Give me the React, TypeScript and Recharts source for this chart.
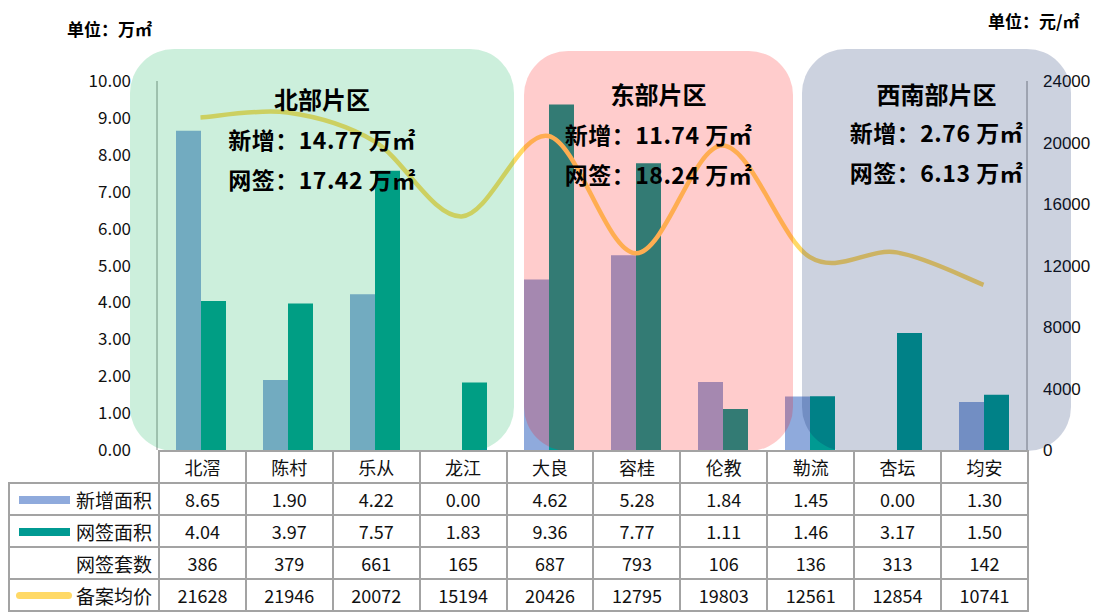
import { ComposedChart, Bar, Line, XAxis, YAxis } from 'recharts';

const categories = ['北滘', '陈村', '乐从', '龙江', '大良', '容桂', '伦教', '勒流', '杏坛', '均安'];
const newArea = [8.65, 1.9, 4.22, 0.0, 4.62, 5.28, 1.84, 1.45, 0.0, 1.3];
const signedArea = [4.04, 3.97, 7.57, 1.83, 9.36, 7.77, 1.11, 1.46, 3.17, 1.5];
const signedUnits = [386, 379, 661, 165, 687, 793, 106, 136, 313, 142];
const avgPrice = [21628, 21946, 20072, 15194, 20426, 12795, 19803, 12561, 12854, 10741];

const leftTicks = [0, 1, 2, 3, 4, 5, 6, 7, 8, 9, 10];
const rightTicks = [0, 4000, 8000, 12000, 16000, 20000, 24000];

const regionNames = ['北部片区', '东部片区', '西南部片区'];
const regionNew = ['14.77', '11.74', '2.76'];
const regionSigned = ['17.42', '18.24', '6.13'];

const NEW_COLOR = '#8FAADC';
const SIGNED_COLOR = '#009A92';
const PRICE_COLOR = '#FFD966';
const CJK = '"Noto Sans CJK SC", "Noto Sans", sans-serif';

// overlay boxes behind the region labels
const regionBoxes = [
  { left: 130, top: 49, width: 384, height: 402, bg: 'rgba(0,176,80,0.2)', titleTop: 84, lineTop: 124 },
  { left: 524, top: 51, width: 269, height: 400, bg: 'rgba(255,0,0,0.2)', titleTop: 79, lineTop: 119 },
  { left: 802, top: 49, width: 269, height: 402, bg: 'rgba(0,32,96,0.2)', titleTop: 79, lineTop: 117 },
];

const chartData = categories.map((name, i) => ({
  name,
  newArea: newArea[i],
  signedArea: signedArea[i],
  price: avgPrice[i],
}));

// Excel-style smoothing (Catmull-Rom through every point)
const smoothCurve: any = (context: any) => {
  let pts: number[][] = [];
  return {
    areaStart() {},
    areaEnd() {},
    lineStart() {
      pts = [];
    },
    point(x: number, y: number) {
      pts.push([+x, +y]);
    },
    lineEnd() {
      const n = pts.length;
      if (!n) return;
      context.moveTo(pts[0][0], pts[0][1]);
      for (let i = 0; i < n - 1; i++) {
        const p0 = pts[Math.max(i - 1, 0)];
        const p1 = pts[i];
        const p2 = pts[i + 1];
        const p3 = pts[Math.min(i + 2, n - 1)];
        context.bezierCurveTo(
          p1[0] + (p2[0] - p0[0]) / 6,
          p1[1] + (p2[1] - p0[1]) / 6,
          p2[0] - (p3[0] - p1[0]) / 6,
          p2[1] - (p3[1] - p1[1]) / 6,
          p2[0],
          p2[1]
        );
      }
    },
  };
};

const cell: React.CSSProperties = {
  border: '2px solid #a3a3a3',
  height: 30,
  padding: 0,
  textAlign: 'center',
  fontSize: 18,
  fontFamily: CJK,
  color: '#111',
};

function Swatch({ color, round }: { color: string; round?: boolean }) {
  return (
    <span
      style={{
        position: 'absolute',
        left: round ? 6 : 9,
        top: 12,
        width: round ? 56 : 51,
        height: round ? 7 : 8,
        borderRadius: round ? 4 : 0,
        background: color,
      }}
    />
  );
}

export default function App() {
  const rows = [
    { label: '新增面积', swatch: NEW_COLOR, round: false, values: newArea.map((v) => v.toFixed(2)) },
    { label: '网签面积', swatch: SIGNED_COLOR, round: false, values: signedArea.map((v) => v.toFixed(2)) },
    { label: '网签套数', swatch: '', round: false, values: signedUnits.map((v) => String(v)) },
    { label: '备案均价', swatch: PRICE_COLOR, round: true, values: avgPrice.map((v) => String(v)) },
  ];

  return (
    <div style={{ position: 'absolute', left: 0, top: 0, width: 1095, height: 614, overflow: 'hidden', background: '#fff' }}>
      <div style={{ position: 'absolute', left: 67, top: 16, fontFamily: CJK, fontWeight: 700, fontSize: 17 }}>单位：万㎡</div>
      <div style={{ position: 'absolute', left: 988, top: 8, fontFamily: CJK, fontWeight: 700, fontSize: 17 }}>单位：元/㎡</div>

      <div style={{ position: 'absolute', left: 0, top: 0 }}>
        <ComposedChart
          width={1095}
          height={460}
          data={chartData}
          margin={{ top: 81, right: 8, bottom: 10, left: 57 }}
          barGap={0}
        >
          <XAxis dataKey="name" hide />
          <YAxis
            yAxisId="left"
            domain={[0, 10]}
            ticks={leftTicks}
            width={100}
            tickLine={false}
            tickMargin={20}
            axisLine={{ stroke: '#8c8c8c' }}
            tickFormatter={(v: number) => v.toFixed(2)}
            tick={{ fontSize: 17, fill: '#111', fontFamily: CJK }}
          />
          <YAxis
            yAxisId="right"
            orientation="right"
            domain={[0, 24000]}
            ticks={rightTicks}
            width={60}
            tickLine={false}
            tickMargin={10}
            axisLine={{ stroke: '#8c8c8c' }}
            tick={{ fontSize: 17, fill: '#111', fontFamily: '"Liberation Sans", Arial, sans-serif', textAnchor: 'start' }}
          />
          <Bar yAxisId="left" dataKey="newArea" fill={NEW_COLOR} barSize={25} isAnimationActive={false} />
          <Bar yAxisId="left" dataKey="signedArea" fill={SIGNED_COLOR} barSize={25} isAnimationActive={false} />
          <Line
            yAxisId="right"
            dataKey="price"
            type={smoothCurve}
            stroke={PRICE_COLOR}
            strokeWidth={4.5}
            dot={false}
            activeDot={false}
            isAnimationActive={false}
          />
        </ComposedChart>
      </div>

      {regionBoxes.map((b, i) => (
        <div
          key={regionNames[i]}
          style={{
            position: 'absolute',
            left: b.left,
            top: b.top,
            width: b.width,
            height: b.height,
            background: b.bg,
            borderRadius: 44,
          }}
        />
      ))}
      {regionBoxes.map((b, i) => (
        <div
          key={'t' + regionNames[i]}
          style={{
            position: 'absolute',
            left: b.left,
            width: b.width,
            top: 0,
            textAlign: 'center',
            fontFamily: CJK,
            fontWeight: 700,
            color: '#000',
          }}
        >
          <div style={{ position: 'absolute', top: b.titleTop, width: '100%', fontSize: 24, lineHeight: '30px' }}>
            {regionNames[i]}
          </div>
          <div style={{ position: 'absolute', top: b.lineTop, width: '100%', fontSize: 23, lineHeight: '30px', letterSpacing: 0.5 }}>
            新增：{regionNew[i]} 万㎡
          </div>
          <div style={{ position: 'absolute', top: b.lineTop + 40, width: '100%', fontSize: 23, lineHeight: '30px', letterSpacing: 0.5 }}>
            网签：{regionSigned[i]} 万㎡
          </div>
        </div>
      ))}

      <table
        style={{
          position: 'absolute',
          left: 8,
          top: 450,
          borderCollapse: 'collapse',
          tableLayout: 'fixed',
          width: 1020,
        }}
      >
        <colgroup>
          <col style={{ width: 150 }} />
          {categories.map((c) => (
            <col key={c} style={{ width: 86.9 }} />
          ))}
        </colgroup>
        <tbody>
          <tr>
            <td style={{ ...cell, borderTop: 'hidden', borderLeft: 'hidden' }} />
            {categories.map((c) => (
              <td key={c} style={cell}>
                {c}
              </td>
            ))}
          </tr>
          {rows.map((r) => (
            <tr key={r.label}>
              <td style={{ ...cell, position: 'relative', textAlign: 'right', paddingRight: 6, fontSize: 19 }}>
                {r.swatch && <Swatch color={r.swatch} round={r.round} />}
                {r.label}
              </td>
              {r.values.map((v, j) => (
                <td key={categories[j]} style={cell}>
                  {v}
                </td>
              ))}
            </tr>
          ))}
        </tbody>
      </table>
    </div>
  );
}
